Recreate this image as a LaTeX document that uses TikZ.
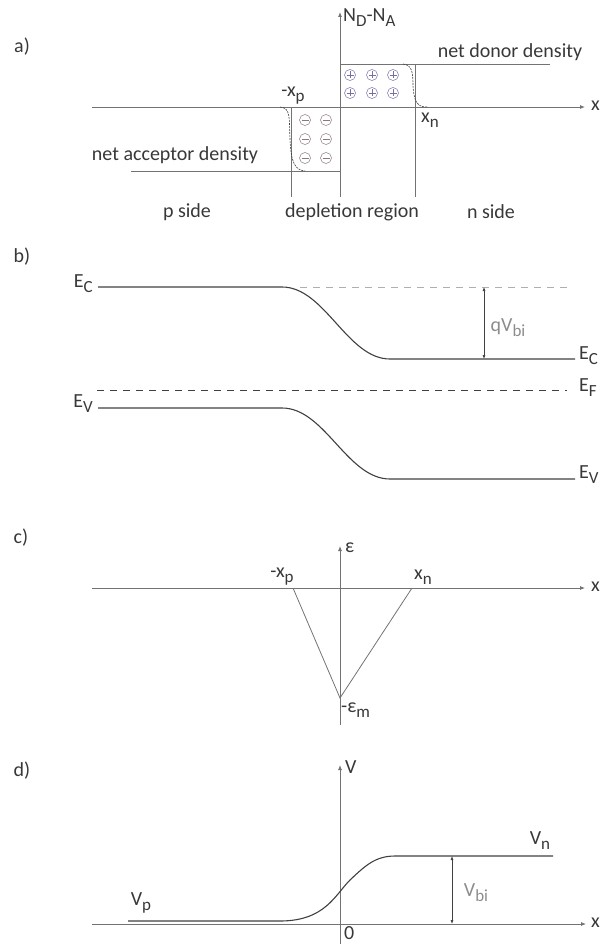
\documentclass[tikz,border=0pt]{standalone}
\usepackage{fontspec}
\setmainfont{Carlito}
\usetikzlibrary{arrows.meta}

\definecolor{axisgray}{gray}{0.45}
\definecolor{curvegray}{gray}{0.25}
\definecolor{textgray}{gray}{0.22}
\definecolor{softgray}{gray}{0.55}
\definecolor{donorblue}{RGB}{120,110,170}
\definecolor{acceptgray}{RGB}{140,120,120}

% lowered subscript, almost full size
\newcommand{\lo}[1]{\raisebox{-5pt}{\fontsize{17}{18}\selectfont #1}}

\tikzset{
  axis/.style={draw=axisgray, line width=0.8pt},
  axisarrow/.style={axis, -{Latex[length=5pt,width=4pt]}},
  band/.style={draw=curvegray, line width=1.1pt},
  lbl/.style={text=textgray, font=\fontsize{20}{22}\selectfont, inner sep=0pt},
  glbl/.style={lbl, text=softgray},
  dimline/.style={draw=curvegray, line width=0.6pt, {Latex[length=4pt,width=3pt]}-{Latex[length=4pt,width=3pt]}},
  tail/.style={draw=curvegray, line width=0.6pt, dash pattern=on 2pt off 1pt},
  ionp/.style={draw=donorblue, line width=0.5pt},
  ionm/.style={draw=acceptgray, line width=0.5pt},
}

\begin{document}
\begin{tikzpicture}[x=1pt, y=-1pt]
  \useasboundingbox (0,0) rectangle (601,944);

  % --- a) net doping profile ---
  \node[lbl] (la) at (22,47) {a)};
  \coordinate (ax0) at (92,107);  \coordinate (ax1) at (585,107);
  \coordinate (ay0) at (340,197); \coordinate (ay1) at (340,12);
  \draw[axisarrow] (ax0) -- (ax1);
  \node[lbl, anchor=west] (xa) at (591,106) {x};
  \draw[axisarrow] (ay0) -- (ay1);
  \node[lbl, anchor=west] (nd) at (343,18) {N\lo{D}-N\lo{A}};

  % steps and depletion edges
  \draw[axis] (340,64) -- (550,64);
  \draw[axis] (131,171) -- (340,171);
  \draw[axis] (291,107) -- (291,197);
  \draw[axis] (415,64) -- (415,197);

  % real (smooth) edges
  \draw[tail] (280,107) .. controls (291,108) and (289,118) .. (290,139)
              .. controls (291,163) and (295,170) .. (305,171);
  \draw[tail] (403,64) .. controls (412,65) and (413,72) .. (413,86)
              .. controls (414,103) and (418,107) .. (427,107);

  % fixed ions
  \foreach \x in {350,372,393}{
    \foreach \y in {75,93}{
      \draw[ionp] (\x,\y) circle (5.5pt);
      \draw[ionp] (\x-3.5,\y) -- (\x+3.5,\y) (\x,\y-3.5) -- (\x,\y+3.5);
    }
  }
  \foreach \x in {305,326}{
    \foreach \y in {120,139,158}{
      \draw[ionm] (\x,\y) circle (5.5pt);
      \draw[ionm] (\x-3.5,\y) -- (\x+3.5,\y);
    }
  }

  \node[lbl] (ndon) at (510,52) {net donor density};
  \node[lbl] (nacc) at (175,155) {net acceptor density};
  \node[lbl] (xpa) at (293,96) {-x\lo{p}};
  \node[lbl] (xna) at (430,120) {x\lo{n}};
  \node[lbl] (pside) at (187,212) {p side};
  \node[lbl] (dreg) at (352,212) {depletion region};
  \node[lbl] (nside) at (491,212) {n side};

  % --- b) band diagram ---
  \node[lbl] (lb) at (22,257) {b)};
  \draw[band] (98,287) -- (282,287) .. controls (325,287) and (347,359) .. (390,359) -- (575,359);
  \draw[band] (98,408) -- (282,408) .. controls (325,408) and (347,479) .. (390,479) -- (575,479);
  \draw[draw=softgray!70, line width=0.8pt, dash pattern=on 7pt off 6pt] (300,287) -- (572,287);
  \draw[draw=curvegray, line width=0.9pt, dash pattern=on 7pt off 6pt] (97,390) -- (567,390);
  \coordinate (qt) at (484,287); \coordinate (qb) at (484,359);
  \draw[dimline] (qt) -- (qb);
  \node[glbl] (qv) at (508,328) {qV\lo{bi}};
  \node[lbl, anchor=east] (ecl) at (93,284) {E\lo{C}};
  \node[lbl, anchor=east] (evl) at (93,404) {E\lo{V}};
  \node[lbl, anchor=west] (ecr) at (579,356) {E\lo{C}};
  \node[lbl, anchor=west] (efr) at (579,388) {E\lo{F}};
  \node[lbl, anchor=west] (evr) at (579,475) {E\lo{V}};

  % --- c) electric field ---
  \node[lbl] (lc) at (21,538) {c)};
  \coordinate (cx0) at (92,588);  \coordinate (cx1) at (585,588);
  \coordinate (cy0) at (340,725); \coordinate (cy1) at (340,546);
  \draw[axisarrow] (cx0) -- (cx1);
  \node[lbl, anchor=west] (xc) at (591,587) {x};
  \draw[axisarrow] (cy0) -- (cy1);
  \node[lbl, anchor=west] (eps) at (345,548) {ε};
  \coordinate (fl) at (293,588); \coordinate (fm) at (340,698); \coordinate (fr) at (412,588);
  \draw[axis] (fl) -- (fm) -- (fr);
  \node[lbl] (xpc) at (282,577) {-x\lo{p}};
  \node[lbl] (xnc) at (423,577) {x\lo{n}};
  \node[lbl, anchor=west] (em) at (341,710) {-ε\lo{m}};

  % --- d) potential ---
  \node[lbl] (ld) at (22,771) {d)};
  \coordinate (dx0) at (92,924);  \coordinate (dx1) at (586,924);
  \coordinate (dy0) at (340,944); \coordinate (dy1) at (340,765);
  \draw[axisarrow] (dx0) -- (dx1);
  \node[lbl, anchor=west] (xd) at (591,923) {x};
  \draw[axisarrow] (dy0) -- (dy1);
  \node[lbl, anchor=west] (vax) at (345,767) {V};
  \node[lbl, anchor=west] (zero) at (344,933) {0};
  \draw[band] (128,921) -- (280,921) .. controls (325,921) and (335,895) .. (350,880)
              .. controls (365,866) and (375,856) .. (395,856) -- (553,856);
  \coordinate (vt) at (452,856); \coordinate (vb) at (452,924);
  \draw[dimline] (vt) -- (vb);
  \node[glbl] (vbi) at (476,893) {V\lo{bi}};
  \node[lbl] (vp) at (141,903) {V\lo{p}};
  \node[lbl] (vn) at (540,841) {V\lo{n}};
\end{tikzpicture}
\end{document}
